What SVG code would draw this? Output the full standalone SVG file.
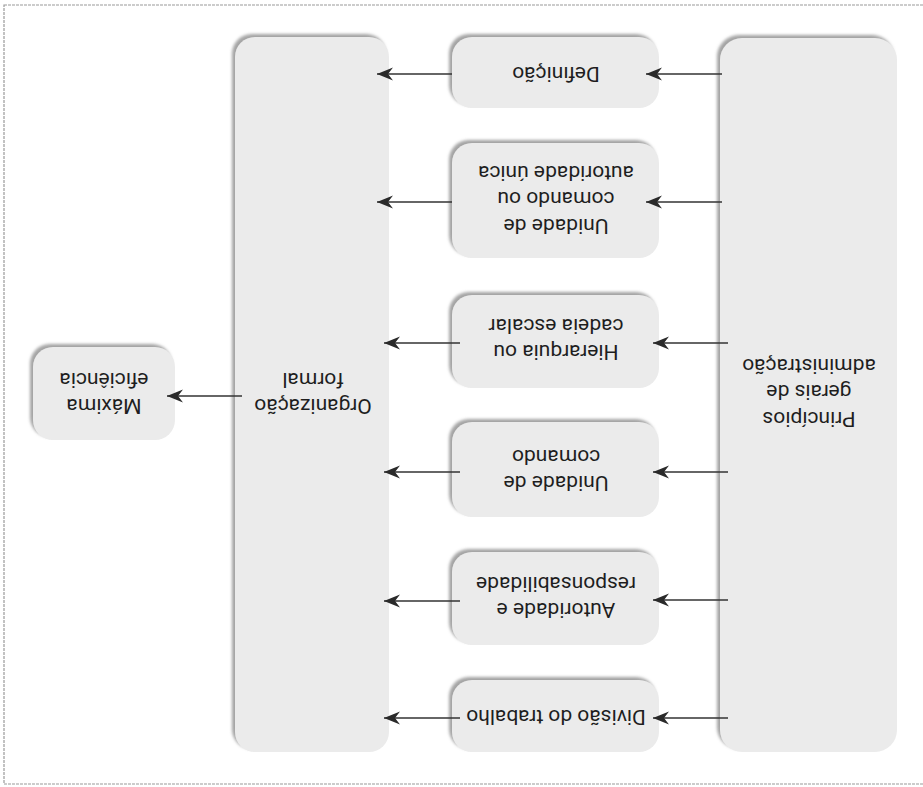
<svg xmlns="http://www.w3.org/2000/svg" width="923" height="787" viewBox="0 0 923 787">
<style>
.box{fill:#ebebeb;filter:url(#sh)}
.lbl{font-family:Roboto,"Open Sans",sans-serif;font-size:21px;fill:#1e1e1e;text-anchor:middle}
.con{stroke:#333;stroke-width:1.5;fill:none;marker-end:url(#ah)}
</style>
<defs>
<filter id="sh" x="-10%" y="-10%" width="120%" height="120%">
<feDropShadow dx="-3" dy="-3" stdDeviation="1.8" flood-color="#9a9a9a" flood-opacity="0.9"/>
</filter>
<marker id="ah" markerUnits="userSpaceOnUse" viewBox="-17 -7 18 14" refX="0" refY="0" markerWidth="18" markerHeight="14" orient="auto">
<path d="M0,0 L-16,-6.5 L-11,0 L-16,6.5 Z" fill="#2a2a2a"/>
</marker>
</defs>
<rect x="4" y="5" width="930" height="779" fill="none" stroke="#9a9a9a" stroke-width="1.2" stroke-dasharray="3 1"/>

<g id="principios">
<rect class="box" x="720" y="38" width="177" height="714" rx="22"/>
<g transform="rotate(180 809 393)"><text class="lbl" x="809" y="374.5"><tspan x="809">Princípios</tspan><tspan x="809" dy="26.5">gerais de</tspan><tspan x="809" dy="26.5">administração</tspan></text></g>
</g>

<g id="definicao">
<rect class="box" x="452" y="37" width="207" height="71" rx="20"/>
<g transform="rotate(180 556 74)"><text class="lbl" x="556" y="81.5">Definição</text></g>
</g>

<g id="unidade-autoridade">
<rect class="box" x="452" y="143" width="207" height="115" rx="20"/>
<g transform="rotate(180 556 200)"><text class="lbl" x="556" y="181.5"><tspan x="556">Unidade de</tspan><tspan x="556" dy="26.5">comando ou</tspan><tspan x="556" dy="26.5">autoridade única</tspan></text></g>
</g>

<g id="hierarquia">
<rect class="box" x="452" y="295" width="207" height="93" rx="20"/>
<g transform="rotate(180 556 339)"><text class="lbl" x="556" y="333"><tspan x="556">Hierarquia ou</tspan><tspan x="556" dy="26.5">cadeia escalar</tspan></text></g>
</g>

<g id="unidade-comando">
<rect class="box" x="452" y="422" width="207" height="95" rx="20"/>
<g transform="rotate(180 556 470)"><text class="lbl" x="556" y="464"><tspan x="556">Unidade de</tspan><tspan x="556" dy="26.5">comando</tspan></text></g>
</g>

<g id="autoridade-responsabilidade">
<rect class="box" x="452" y="552" width="207" height="93" rx="20"/>
<g transform="rotate(180 556 597)"><text class="lbl" x="556" y="591"><tspan x="556">Autoridade e</tspan><tspan x="556" dy="26.5">responsabilidade</tspan></text></g>
</g>

<g id="divisao">
<rect class="box" x="452" y="680" width="207" height="72" rx="20"/>
<g transform="rotate(180 556 717)"><text class="lbl" x="556" y="724.5">Divisão do trabalho</text></g>
</g>

<g id="organizacao">
<rect class="box" x="235" y="37" width="154" height="715" rx="20"/>
<g transform="rotate(180 313 393)"><text class="lbl" x="313" y="387"><tspan x="313">Organização</tspan><tspan x="313" dy="26.5">formal</tspan></text></g>
</g>

<g id="maxima">
<rect class="box" x="33" y="347" width="142" height="93" rx="20"/>
<g transform="rotate(180 104 393)"><text class="lbl" x="104" y="387"><tspan x="104">Máxima</tspan><tspan x="104" dy="26.5">eficiência</tspan></text></g>
</g>

<g id="connectors">
<line class="con" x1="722" y1="74" x2="646" y2="74"/>
<line class="con" x1="722" y1="202" x2="646" y2="202"/>
<line class="con" x1="728" y1="343" x2="653" y2="343"/>
<line class="con" x1="728" y1="472" x2="653" y2="472"/>
<line class="con" x1="728" y1="600" x2="653" y2="600"/>
<line class="con" x1="728" y1="718" x2="653" y2="718"/>
<line class="con" x1="452" y1="74" x2="377" y2="74"/>
<line class="con" x1="452" y1="202" x2="377" y2="202"/>
<line class="con" x1="460" y1="343" x2="384" y2="343"/>
<line class="con" x1="460" y1="472" x2="384" y2="472"/>
<line class="con" x1="460" y1="601" x2="384" y2="601"/>
<line class="con" x1="460" y1="718" x2="384" y2="718"/>
<line class="con" x1="242" y1="396" x2="167" y2="396"/>
</g>
</svg>
